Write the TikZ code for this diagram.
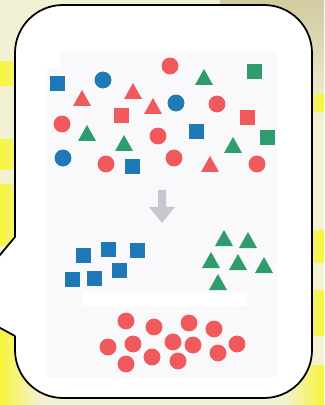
\documentclass[tikz,border=0pt]{standalone}
\usetikzlibrary{positioning}
\definecolor{paper}{HTML}{F3F1D4}
\definecolor{glow}{HTML}{F7F53A}
\definecolor{dust}{HTML}{D2CBA0}
\definecolor{panel}{HTML}{F9F9FB}
\definecolor{sqblue}{HTML}{1F78B8}
\definecolor{dotred}{HTML}{F05A5C}
\definecolor{trigreen}{HTML}{2E9C6C}
\definecolor{arrowgray}{HTML}{C9C5D1}

\begin{document}
\begin{tikzpicture}[x=0.03cm, y=-0.03cm,
  bluebox/.style={fill=sqblue},
  bluedot/.style={fill=sqblue},
  reddot/.style={fill=dotred},
  redbox/.style={fill=dotred},
  redtri/.style={fill=dotred},
  greentri/.style={fill=trigreen},
  greenbox/.style={fill=trigreen}]
  % Hintergrund
  \useasboundingbox (0,0) rectangle (324,405);
  \fill[paper] (0,0) rectangle (324,405);
  \shade[top color=dust, bottom color=paper] (220,0) rectangle (324,120);
  \foreach \ya/\yb in {62/86, 140/170, 185/245, 330/405}
    \shade[left color=glow, right color=paper] (0,\ya) rectangle (40,\yb);
  \foreach \ya/\yb in {95/112, 230/262, 290/335, 365/405}
    \shade[left color=paper, right color=glow] (284,\ya) rectangle (324,\yb);

  % Sprechblase
  \draw[fill=white, line width=1.5pt, rounded corners=1.44cm] (15,5) rectangle (312,398);
  \fill[white] (16,237) -- (-42,305) -- (16,336) -- cycle;
  \draw[line width=1.5pt] (15,237) -- (-42,305) -- (15,336);

  % Flaeche
  \fill[panel] (47,68) -- (60,68) -- (60,53) -- (277,53) -- (277,377) -- (47,377) -- cycle;
  \fill[white] (83,293) rectangle (247,306);

  % Durcheinander
  \foreach \x/\y in {57/84, 196/132, 132/167}
    \fill[bluebox] (\x-7.5,\y-7.5) rectangle ++(15,15);
  \foreach \x/\y in {103/80, 176/103, 63/158}
    \fill[bluedot] (\x,\y) circle (7.2pt);
  \foreach \x/\y in {170/66, 217/104, 62/124, 158/136, 106/164, 174/158, 257/164}
    \fill[reddot] (\x,\y) circle (7.2pt);
  \foreach \x/\y in {121/116, 247/118}
    \fill[redbox] (\x-7.5,\y-7.5) rectangle ++(15,15);
  \foreach \x/\y in {82/98, 133/91, 153/106, 210/164}
    \fill[redtri] (\x,\y) ++(-9,8) -- ++(18,0) -- ++(-9,-16) -- cycle;
  \foreach \x/\y in {204/77, 87/133, 124/143, 233/145}
    \fill[greentri] (\x,\y) ++(-9,8) -- ++(18,0) -- ++(-9,-16) -- cycle;
  \foreach \x/\y in {254/72, 267/138}
    \fill[greenbox] (\x-7.5,\y-7.5) rectangle ++(15,15);

  % Pfeil
  \fill[arrowgray] (158,190) -- (166,190) -- (166,207) -- (175,207) -- (162,223)
    -- (149,207) -- (158,207) -- cycle;

  % Sortiert
  \foreach \x/\y in {83/255, 108/249, 137/250, 72/279, 94/278, 119/270}
    \fill[bluebox] (\x-7.5,\y-7.5) rectangle ++(15,15);
  \foreach \x/\y in {224/238, 248/240, 211/260, 238/262, 264/265, 218/282}
    \fill[greentri] (\x,\y) ++(-9,8) -- ++(18,0) -- ++(-9,-16) -- cycle;
  \foreach \x/\y in {126/321, 154/327, 189/323, 214/329, 108/347, 133/344, 173/342,
                     193/345, 237/344, 218/353, 126/364, 152/357, 178/361}
    \fill[reddot] (\x,\y) circle (7.2pt);
\end{tikzpicture}
\end{document}
